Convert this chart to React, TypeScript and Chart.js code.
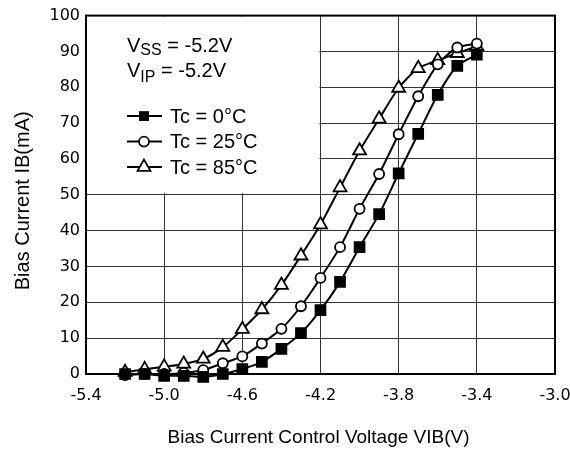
import React, { useEffect, useRef } from "react";
import { Chart, registerables } from "chart.js";

Chart.register(...registerables);

// ---- data ----
const voltages = [-5.2, -5.1, -5.0, -4.9, -4.8, -4.7, -4.6, -4.5, -4.4, -4.3, -4.2, -4.1, -4.0, -3.9, -3.8, -3.7, -3.6, -3.5, -3.4];
const current0C = [0, 0, -0.5, -0.5, -0.8, 0, 1.4, 3.4, 7, 11.4, 17.8, 25.7, 35.4, 44.6, 56, 67, 77.9, 86, 89.1];
const current25C = [-0.3, 0, 0, 0.3, 1.1, 3, 4.9, 8.5, 12.6, 18.9, 26.8, 35.4, 46.1, 55.8, 66.9, 77.5, 86.4, 91.1, 92.2];
const current85C = [0.5, 1.3, 2, 2.8, 4.2, 7.5, 12.5, 18, 24.8, 33, 41.7, 52, 62.3, 71.2, 79.8, 85.3, 87.5, 89.5, 91.4];
const seriesLabels = ["Tc = 0°C", "Tc = 25°C", "Tc = 85°C"];
const seriesMarkers = ["rect", "circle", "triangle"];
const xRange = [-5.4, -3.0];
const xStep = 0.4;
const yRange = [0, 100];
const yStep = 10;
const xTitle = "Bias Current Control Voltage VIB(V)";
const yTitle = "Bias Current IB(mA)";
const conditions = [
  { main: "V", sub: "SS", rest: " = -5.2V" },
  { main: "V", sub: "IP", rest: " = -5.2V" },
];

const TEXT_FONT = "Liberation Sans, Arial, Helvetica, sans-serif";
const TICK_FONT = "DejaVu Sans, Liberation Sans, sans-serif";

function drawMarker(ctx: CanvasRenderingContext2D, style: string, x: number, y: number) {
  ctx.save();
  ctx.lineWidth = 1.8;
  ctx.strokeStyle = "#000";
  ctx.beginPath();
  if (style === "rect") {
    const s = 7 * Math.SQRT1_2;
    ctx.rect(x - s, y - s, 2 * s, 2 * s);
    ctx.fillStyle = "#000";
    ctx.fill();
  } else if (style === "circle") {
    ctx.arc(x, y, 5, 0, Math.PI * 2);
    ctx.fillStyle = "#fff";
    ctx.fill();
    ctx.stroke();
  } else {
    const r = 7.5;
    let a = 0;
    ctx.moveTo(x + Math.sin(a) * r, y - Math.cos(a) * r);
    a += (2 * Math.PI) / 3;
    ctx.lineTo(x + Math.sin(a) * r, y - Math.cos(a) * r);
    a += (2 * Math.PI) / 3;
    ctx.lineTo(x + Math.sin(a) * r, y - Math.cos(a) * r);
    ctx.closePath();
    ctx.fillStyle = "#fff";
    ctx.fill();
    ctx.stroke();
  }
  ctx.restore();
}

const overlayPlugin = {
  id: "overlay",
  beforeDatasetsDraw(chart: any) {
    const { ctx, chartArea, scales } = chart;
    ctx.save();
    const bx0 = chartArea.left + 1;
    const bx1 = scales.x.getPixelForValue(-4.2) - 1;
    const by0 = chartArea.top + 1;
    const by1 = scales.y.getPixelForValue(50) - 2;
    ctx.fillStyle = "#fff";
    ctx.fillRect(bx0, by0, bx1 - bx0, by1 - by0);
    ctx.strokeStyle = "#000";
    ctx.lineWidth = 2;
    ctx.strokeRect(chartArea.left, chartArea.top, chartArea.right - chartArea.left, chartArea.bottom - chartArea.top);
    ctx.restore();
  },
  afterDatasetsDraw(chart: any) {
    const { ctx, chartArea } = chart;
    const L = chartArea.left;
    const T = chartArea.top;
    ctx.save();
    ctx.fillStyle = "#000";
    ctx.textBaseline = "alphabetic";
    ctx.textAlign = "left";
    const subOffsets = [3.5, 5];
    conditions.forEach((c, i) => {
      const baseY = T + 36 + i * 25;
      let x = L + 41;
      ctx.font = `20px ${TEXT_FONT}`;
      ctx.fillText(c.main, x, baseY);
      x += ctx.measureText(c.main).width;
      ctx.font = `16px ${TEXT_FONT}`;
      ctx.fillText(c.sub, x, baseY + subOffsets[i]);
      x += ctx.measureText(c.sub).width;
      ctx.font = `20px ${TEXT_FONT}`;
      ctx.fillText(c.rest, x, baseY);
    });
    seriesLabels.forEach((label, i) => {
      const ry = T + 100.5 + i * 25.5;
      ctx.strokeStyle = "#000";
      ctx.lineWidth = 2;
      ctx.beginPath();
      ctx.moveTo(L + 41, ry);
      ctx.lineTo(L + 76, ry);
      ctx.stroke();
      drawMarker(ctx, seriesMarkers[i], L + 58, ry);
      ctx.font = `20px ${TEXT_FONT}`;
      ctx.textBaseline = "middle";
      ctx.fillStyle = "#000";
      ctx.fillText(label, L + 84, ry + 1);
    });
    ctx.restore();
  },
  afterDraw(chart: any) {
    const { ctx, chartArea } = chart;
    ctx.save();
    ctx.fillStyle = "#000";
    ctx.textAlign = "center";
    ctx.textBaseline = "alphabetic";
    ctx.font = `19px ${TEXT_FONT}`;
    ctx.fillText(xTitle, (chartArea.left + chartArea.right) / 2 - 2, 443);
    ctx.translate(29, (chartArea.top + chartArea.bottom) / 2 + 6);
    ctx.rotate(-Math.PI / 2);
    ctx.font = `20px ${TEXT_FONT}`;
    ctx.fillText(yTitle, 0, 0);
    ctx.restore();
  },
};

export default function App() {
  const canvasRef = useRef<HTMLCanvasElement | null>(null);

  useEffect(() => {
    const canvas = canvasRef.current;
    if (!canvas) return;
    const series = [current0C, current25C, current85C];
    const datasets = series.map((arr, i) => ({
      label: seriesLabels[i],
      data: voltages.map((v, j) => ({ x: v, y: arr[j] })),
      borderColor: "#000",
      borderWidth: 2,
      pointStyle: seriesMarkers[i],
      pointRadius: seriesMarkers[i] === "rect" ? 7 : seriesMarkers[i] === "circle" ? 5 : 7.5,
      pointBackgroundColor: i === 0 ? "#000" : "#fff",
      pointBorderColor: "#000",
      pointBorderWidth: 1.8,
      tension: 0.25,
      clip: false as any,
      fill: false,
    }));

    const chart = new Chart(canvas, {
      type: "line",
      data: { datasets },
      options: {
        animation: false,
        responsive: false,
        events: [],
        layout: { padding: { left: 0, right: 15, top: 14, bottom: 0 } },
        plugins: { legend: { display: false }, tooltip: { enabled: false } },
        scales: {
          x: {
            type: "linear",
            min: xRange[0],
            max: xRange[1],
            border: { display: false },
            grid: { color: "#333", lineWidth: 1, drawTicks: false },
            ticks: {
              stepSize: xStep,
              padding: 12,
              color: "#000",
              font: { family: TICK_FONT, size: 16 },
              callback: (v: any) => Number(v).toFixed(1),
              maxRotation: 0,
              autoSkip: false,
            },
            afterFit: (scale: any) => {
              scale.height = 76;
              scale.paddingLeft = 0;
              scale.paddingRight = 0;
            },
          },
          y: {
            type: "linear",
            min: yRange[0],
            max: yRange[1],
            border: { display: false },
            grid: { color: "#333", lineWidth: 1, drawTicks: false },
            ticks: {
              stepSize: yStep,
              padding: 6,
              color: "#000",
              font: { family: TICK_FONT, size: 16 },
            },
            afterFit: (scale: any) => {
              scale.width = 86;
            },
          },
        },
      },
      plugins: [overlayPlugin],
    });
    return () => chart.destroy();
  }, []);

  return (
    <canvas
      ref={canvasRef}
      width={570}
      height={450}
      style={{ position: "absolute", left: 0, top: 0, width: 570, height: 450, background: "#fff" }}
    />
  );
}
